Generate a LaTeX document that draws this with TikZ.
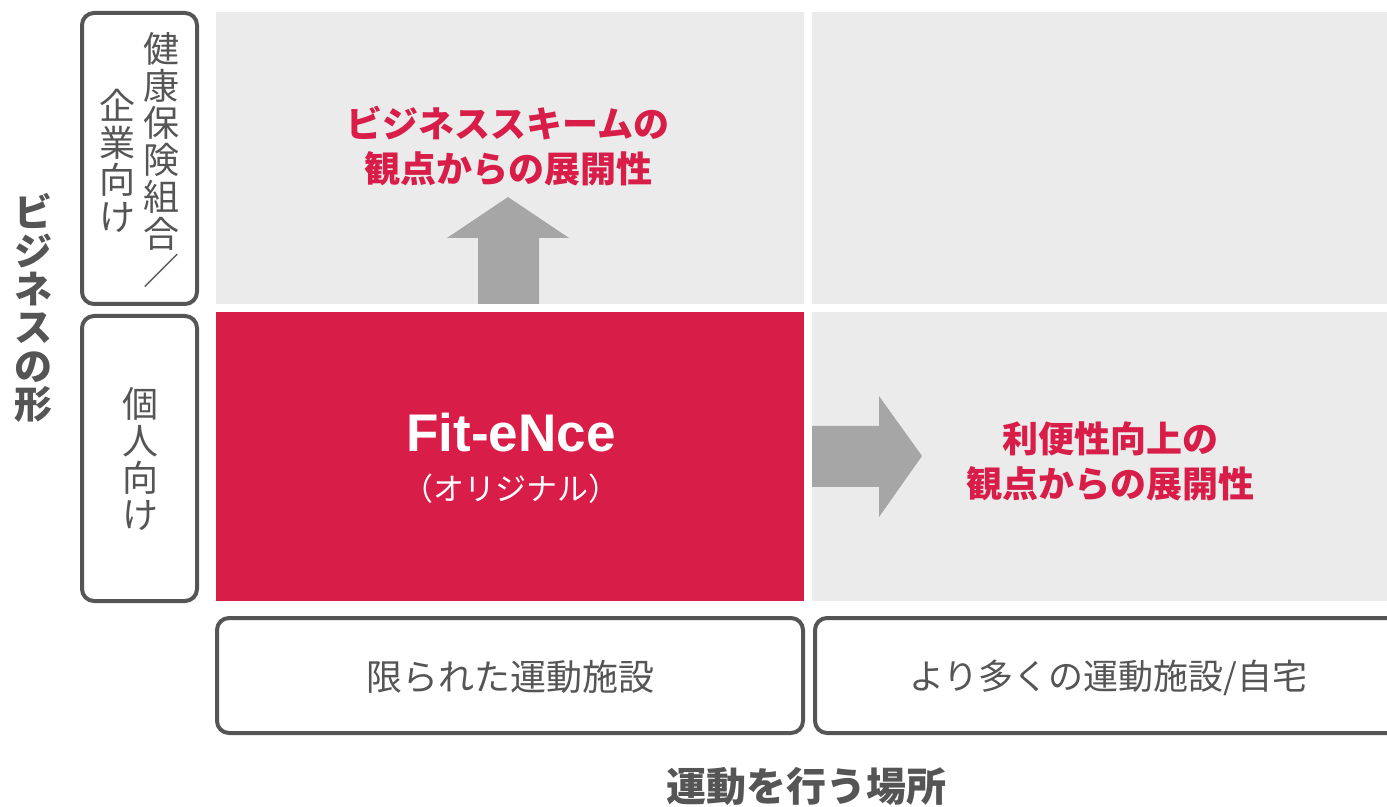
\documentclass[tikz,border=0pt]{standalone}
\usepackage{fontspec}
\setmainfont{Noto Sans CJK JP}
\newfontfamily\latinbold{Liberation Sans}
\definecolor{accent}{HTML}{D81E48}
\definecolor{cellgrey}{HTML}{EBEBEB}
\definecolor{arrowgrey}{HTML}{A6A6A6}
\definecolor{ink}{HTML}{555555}
\begin{document}
\begin{tikzpicture}[x=0.5pt,y=-0.5pt,
  cell/.style={fill=cellgrey},
  labelbox/.style={draw=ink,line width=2pt,rounded corners=6pt,fill=white},
  blockarrow/.style={fill=arrowgrey},
  redtext/.style={text=accent,font=\fontsize{18}{22.5}\selectfont\bfseries,align=center,inner sep=0pt},
  boxtext/.style={text=ink,font=\fontsize{18}{18.5}\selectfont,align=center,inner sep=0pt},
  vtitle/.style={text=ink,font=\fontsize{19}{19.2}\selectfont\bfseries,align=center,inner sep=0pt},
  htitle/.style={text=ink,font=\fontsize{20}{24}\selectfont\bfseries,inner sep=0pt}]
\useasboundingbox (0,0) rectangle (1387,807);
% grid cells
\fill[cell] (216,12) rectangle (804,304);
\fill[cell] (812,12) rectangle (1387,304);
\fill[accent] (216,312) rectangle (804,601);
\fill[cell] (812,312) rectangle (1387,601);
% arrows
\fill[blockarrow] (478,304) -- (478,238) -- (447,238) -- (508,197) -- (569,238) -- (539,238) -- (539,304) -- cycle;
\fill[blockarrow] (812,426) -- (879,426) -- (879,396) -- (922,456) -- (879,517) -- (879,487) -- (812,487) -- cycle;
% left label boxes
\draw[labelbox] (82,13) rectangle (197,304);
\draw[labelbox] (82,316) rectangle (197,601);
\node[boxtext] (hc) at (161,160) {健\\康\\保\\険\\組\\合\\／};
\node[boxtext] (co) at (117,161) {企\\業\\向\\け};
\node[boxtext] (ind) at (140,459) {個\\人\\向\\け};
\node[vtitle] (ytitle) at (33,308) {ビ\\ジ\\ネ\\ス\\の\\形};
% bottom label boxes
\draw[labelbox] (217,618) rectangle (803,733);
\draw[labelbox] (815,618) rectangle (1400,733);
\node[boxtext] (lim) at (510,677) {限られた運動施設};
\node[boxtext,font=\fontsize{17.5}{18.5}\selectfont] (more) at (1108,678) {より多くの運動施設/自宅};
\node[htitle] (xtitle) at (806,786) {運動を行う場所};
% cell texts
\node[redtext] (biz) at (508,146) {ビジネススキームの\\観点からの展開性};
\node[redtext] (conv) at (1110,461) {利便性向上の\\観点からの展開性};
\node[text=white,inner sep=0pt,font=\latinbold\fontsize{26.5}{30}\selectfont\bfseries] (fit) at (511,433) {Fit-eNce};
\node[text=white,inner sep=0pt,font=\fontsize{15.5}{18}\selectfont\mdseries] (orig) at (511,489) {（オリジナル）};
\end{tikzpicture}
\end{document}
